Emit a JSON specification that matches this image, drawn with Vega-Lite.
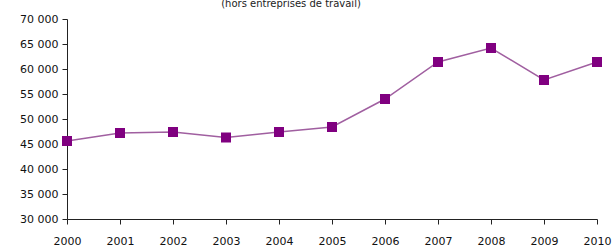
{
  "$schema": "https://vega.github.io/schema/vega-lite/v6.json",
  "width": 530,
  "height": 200,
  "autosize": {"type": "none"},
  "padding": {"left": 67, "top": 19, "right": 15, "bottom": 29},
  "background": "white",
  "title": {"text": "(hors entreprises de travail)", "fontSize": 10, "fontWeight": "normal", "font": "DejaVu Sans", "color": "#222", "offset": 4, "dx": -41},
  "data": {"values": [
    {"annee": 2000, "valeur": 45600},
    {"annee": 2001, "valeur": 47200},
    {"annee": 2002, "valeur": 47400},
    {"annee": 2003, "valeur": 46300},
    {"annee": 2004, "valeur": 47400},
    {"annee": 2005, "valeur": 48400},
    {"annee": 2006, "valeur": 54000},
    {"annee": 2007, "valeur": 61400},
    {"annee": 2008, "valeur": 64200},
    {"annee": 2009, "valeur": 57800},
    {"annee": 2010, "valeur": 61400}
  ]},
  "config": {"view": {"stroke": null}, "axis": {"grid": false, "domainColor": "#222", "tickColor": "#222", "labelColor": "#111", "labelFont": "DejaVu Sans", "labelFontSize": 11, "title": null, "tickSize": 5}},
  "encoding": {
    "x": {"field": "annee", "type": "quantitative", "scale": {"domain": [2000, 2010], "nice": false, "zero": false},
      "axis": {"format": "d", "values": [2000,2001,2002,2003,2004,2005,2006,2007,2008,2009,2010], "labelPadding": 11, "labelFlush": false}},
    "y": {"field": "valeur", "type": "quantitative", "scale": {"domain": [30000, 70000], "nice": false, "zero": false},
      "axis": {"values": [30000,35000,40000,45000,50000,55000,60000,65000,70000], "labelExpr": "replace(format(datum.value, ','), ',', ' ')", "labelPadding": 4}}
  },
  "layer": [
    {"mark": {"type": "line", "color": "#a05fa0", "strokeWidth": 1.5}},
    {"mark": {"type": "point", "shape": "square", "filled": true, "size": 100, "color": "#800080", "opacity": 1}}
  ]
}
